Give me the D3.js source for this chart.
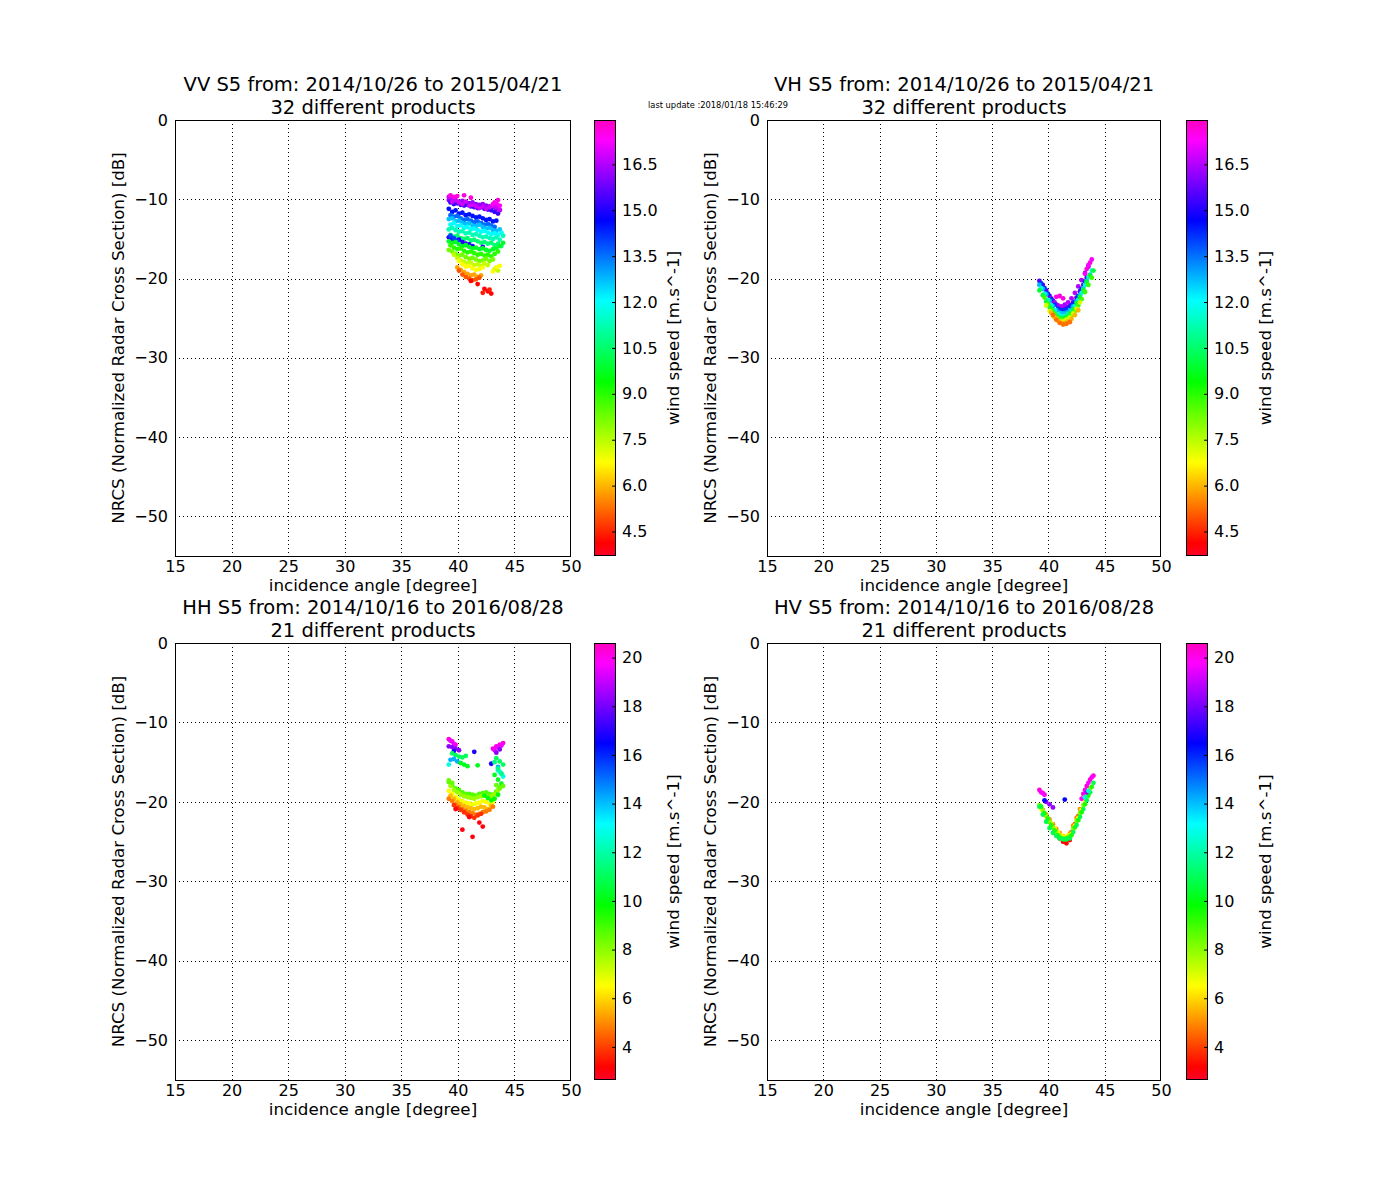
<!DOCTYPE html>
<html><head><meta charset="utf-8">
<script src="https://cdn.jsdelivr.net/npm/d3@7"></script>
<style>body{margin:0;background:#fff}</style>
</head><body><svg id="c" width="1400" height="1200"></svg>
<script>
const _ = null;
// incidence-angle sampling grids (degrees)
const angA = [39.2, 39.5, 39.8, 40.1, 40.4, 40.7, 41.0, 41.3, 41.6, 41.9, 42.2, 42.5, 42.8, 43.1, 43.4, 43.7, 44.0];
const angB = [39.35, 39.65, 39.95, 40.25, 40.55, 40.85, 41.15, 41.45, 41.75, 42.05, 42.35, 42.65, 42.95, 43.25, 43.55, 43.85];

const xTicks = [15, 20, 25, 30, 35, 40, 45, 50];
const yTicks = [0, -10, -20, -30, -40, -50];
const cbTicksTop = [4.5, 6.0, 7.5, 9.0, 10.5, 12.0, 13.5, 15.0, 16.5];
const cbTicksBottom = [4, 6, 8, 10, 12, 14, 16, 18, 20];
const cbDomainTop = [3.7, 17.95];
const cbDomainBottom = [2.64, 20.6];

const titleLines = [
  ["VV S5 from: 2014/10/26 to 2015/04/21", "32 different products"],
  ["VH S5 from: 2014/10/26 to 2015/04/21", "32 different products"],
  ["HH S5 from: 2014/10/16 to 2016/08/28", "21 different products"],
  ["HV S5 from: 2014/10/16 to 2016/08/28", "21 different products"]
];
const xLabel = "incidence angle [degree]";
const yLabel = "NRCS (Normalized Radar Cross Section) [dB]";
const cbLabel = "wind speed [m.s^-1]";
const updateText = "last update :2018/01/18 15:46:29";

// ---- VV ----
const vvWind = [16.2, 15.3, 16.8, 17.6, 17.4, 14.5, 13.6, 12.7, 12.0, 11.3, 10.6, 15.0, 14.0, 9.8, 9.0, 8.2, 7.4, 6.8, 5.8, 5.0, 4.1, 4.4];
const vvGrid = ['A','B','A','B','A','A','B','A','B','A','B','A','B','A','B','A','B','A','B','A','B','A'];
const vvNrcs = [
  [-10.1,-10.0,-10.2,-10.3,-10.2,-10.4,-10.5,-10.4,-10.6,-10.7,-10.6,-10.8,-10.9,-11.0,-11.2,-11.4,_],
  [-10.4,-10.6,-10.5,-10.7,-10.8,-10.7,-10.9,-11.0,-11.1,-11.0,-11.2,-11.3,-11.4,-11.6,-11.8,_],
  [-9.7,-10.3,-10.1,-10.4,-10.6,-10.3,-10.8,-10.7,-10.9,-11.1,-10.9,-11.2,-11.0,-10.8,-11.0,-11.3,_],
  [-9.5,-9.7,-9.6,_,-9.5,_,-9.8,_,_,_,_,_,_,-10.4,-10.1,_],
  [_,_,_,_,_,_,_,_,_,_,_,_,_,-10.6,-10.5,-10.8,_],
  [-11.2,-11.6,-11.4,-11.8,-11.7,-12.0,-11.9,-12.1,-12.3,-12.2,-12.4,-12.6,-12.5,-12.8,-12.7,_,_],
  [-12.0,-12.2,-12.1,-12.4,-12.6,-12.5,-12.7,-12.9,-12.8,-13.0,-13.2,-13.1,-13.3,-13.5,_,_],
  [-12.5,-12.4,-12.8,-12.7,-13.0,-13.1,-13.0,-13.3,-13.4,-13.2,-13.5,-13.7,-13.6,-13.9,-14.0,-13.8,_],
  [-13.2,-13.0,-13.4,-13.3,-13.6,-13.5,-13.8,-13.7,-13.9,-14.1,-14.0,-14.2,-14.4,-14.3,-14.5,-14.2],
  [-13.8,-13.6,-13.9,-14.1,-14.0,-14.3,-14.2,-14.5,-14.4,-14.6,-14.8,-14.7,-14.9,-15.0,-14.8,-15.1,-14.6],
  [-14.5,-14.7,-14.6,-14.9,-15.0,-14.9,-15.2,-15.1,-15.3,-15.5,-15.4,-15.6,-15.5,-15.8,-15.6,-15.9],
  [-14.8,-15.0,-15.2,-15.1,-15.4,-15.6,-15.7,-15.9,_,_,-16.0,_,_,_,_,_,_],
  [-14.6,-14.9,-15.3,_,_,_,_,_,_,_,_,_,_,_,_,_],
  [-15.3,-15.5,-15.4,-15.7,-15.9,-15.8,-16.0,-16.2,-16.1,-16.3,-16.2,-16.4,-16.5,-16.3,-16.2,-15.9,-15.5],
  [-15.8,-16.1,-16.3,-16.2,-16.5,-16.7,-16.6,-16.8,-17.0,-16.9,-17.1,-17.0,-17.2,-16.9,-16.6,_],
  [-16.4,-16.6,-16.9,-17.1,-17.0,-17.3,-17.5,-17.4,-17.6,-17.8,-17.7,-17.5,-17.8,-17.6,_,_,_],
  [_,-17.0,-17.4,-17.7,-17.9,-18.1,-18.0,-18.3,-18.2,-18.4,-18.1,-18.3,_,-18.8,-19.0,_],
  [_,_,_,-17.8,-18.2,-18.5,-18.4,-18.7,-18.9,-18.8,-18.6,_,_,-19.1,-18.6,-18.4,_],
  [_,_,-18.6,-18.9,-19.2,-19.4,-19.6,-19.5,-19.8,-19.6,_,_,_,_,_,_],
  [_,_,_,-19.0,-19.5,-19.8,-20.0,-20.2,-20.1,-19.9,_,_,_,_,_,_,_],
  [_,_,_,_,_,_,-20.3,_,-20.7,_,-21.3,-21.6,-21.9,_,_,_],
  [_,_,_,_,_,_,_,_,_,_,-21.8,_,-21.4,_,_,_,_]
];

// ---- VH ----
const vhWind = [15.5, 16.5, 14.2, 12.8, 11.5, 10.0, 8.8, 7.2, 6.0, 5.3, 17.6, 17.2];
const vhGrid = ['A','B','B','A','B','A','B','A','B','A','A','B'];
const vhNrcs = [
  [-20.3,-20.8,-21.5,-22.2,-22.8,-23.3,-23.6,-23.7,-23.6,-23.4,-23.0,-22.4,-21.6,-20.8,-19.9,_,_],
  [_,_,_,-22.5,-23.0,-23.4,-23.5,-23.3,-23.0,-22.5,-21.8,-21.0,-20.2,-19.3,-18.5,_],
  [-20.6,-21.2,-21.9,-22.6,-23.3,-23.8,-24.0,-24.0,-23.8,-23.4,-22.9,-22.2,-21.3,-20.4,_,_],
  [-20.8,-21.3,-22.0,-22.8,-23.5,-24.0,-24.3,-24.4,-24.3,-24.0,-23.5,-22.9,-22.1,-21.2,-20.3,-19.5,_],
  [-21.2,-21.9,-22.7,-23.4,-24.0,-24.5,-24.7,-24.7,-24.5,-24.1,-23.5,-22.7,-21.8,-20.8,-19.8,-19.0],
  [-21.5,-22.1,-22.9,-23.6,-24.2,-24.7,-25.0,-25.0,-24.8,-24.4,-23.9,-23.1,-22.3,-21.4,-20.4,-19.6,-19.0],
  [_,-22.4,-23.2,-23.9,-24.5,-25.0,-25.2,-25.2,-25.0,-24.6,-24.1,-23.4,-22.6,-21.7,-20.8,-19.9],
  [_,_,-23.4,-24.1,-24.7,-25.1,-25.4,-25.4,-25.2,-24.9,-24.4,-23.8,-23.0,_,_,_,_],
  [_,_,_,-24.3,-24.9,-25.3,-25.6,-25.6,-25.4,-25.1,-24.6,-24.0,_,_,_,_],
  [_,_,_,_,-24.6,-25.2,-25.6,-25.8,-25.7,-25.5,_,_,_,_,_,_,_],
  [_,_,_,_,_,-22.3,-22.2,-22.5,_,_,_,_,_,_,-18.8,-18.0,_],
  [_,_,_,_,_,_,_,_,_,_,_,_,_,-19.4,-18.3,-17.6]
];

// ---- HH ----
const hhWind = [8.8, 7.8, 6.6, 5.6, 4.8, 3.8, 3.0, 9.8, 20.2, 19.6, 18.3, 16.8, 11.0, 14.2, 12.8, 10.2, 12.4, 8.5, 11.5];
const hhGrid = ['A','B','A','B','A','B','A','B','A','B','A','B','A','B','A','B','B','A','B'];
const hhNrcs = [
  [-17.5,-17.9,-18.3,-18.5,-18.8,-19.0,-19.0,-19.1,-19.2,-19.0,-18.9,-18.8,-19.0,-19.1,-18.7,-18.2,_],
  [-18.0,-18.5,-18.8,-19.1,-19.3,-19.4,-19.5,-19.6,-19.4,-19.3,-19.2,-19.4,-19.3,-19.0,-18.5,_],
  [-18.6,-19.0,-19.4,-19.7,-19.9,-20.1,-20.2,-20.3,-20.2,-20.1,-19.9,-20.0,-20.3,-20.0,_,_,_],
  [-19.2,-19.6,-20.0,-20.3,-20.5,-20.7,-20.8,-20.9,-20.8,-20.6,-20.7,-20.9,-20.5,_,_,_],
  [-19.6,-19.9,-20.3,-20.6,-20.9,-21.1,-21.3,-21.4,-21.6,-21.5,-21.3,-21.2,-21.0,-20.6,_,_,_],
  [_,-20.4,-20.8,-21.0,-21.3,-21.6,-21.8,-22.0,-21.7,-21.5,_,_,_,_,_,_],
  [_,_,-20.9,_,-23.5,_,-21.9,-24.4,_,-22.6,-23.1,_,_,_,_,_,_],
  [_,_,_,_,_,_,_,_,_,_,-19.2,-19.5,-19.8,-19.6,-19.1,_],
  [-12.1,-12.4,-12.8,_,_,_,_,_,_,_,_,_,_,-13.3,-13.0,-12.8,-12.6],
  [-12.3,-12.7,_,_,_,_,_,_,_,_,_,_,_,-13.5,-13.1,-12.9],
  [-13.0,-13.1,-13.3,-13.5,_,_,_,_,_,_,_,_,_,_,-13.8,-13.4,_],
  [_,-13.6,_,_,_,_,_,-13.7,_,_,_,_,-15.2,_,_,_],
  [_,-13.9,-14.1,-14.3,-14.4,-14.2,_,_,_,_,_,_,_,_,-14.5,-14.9,-15.3],
  [-14.7,-14.6,-14.9,_,_,_,_,_,_,_,_,_,_,_,-15.6,_],
  [-15.3,_,_,_,_,_,_,_,_,_,_,_,_,_,_,-16.2,-16.8],
  [_,_,_,-15.1,-15.3,-15.5,_,_,-15.4,_,_,_,_,-16.6,-17.2,-17.7],
  [_,_,_,_,_,_,_,_,_,_,_,_,_,_,-16.0,-16.5],
  [-17.3,-17.6,_,_,_,_,_,_,_,_,_,_,_,_,-17.9,-18.3,-18.0],
  [_,_,_,_,_,_,_,_,_,_,_,_,_,-15.0,-15.8,-16.4]
];

// ---- HV ----
const hvWind = [5.0, 4.2, 3.2, 6.5, 8.0, 9.5, 10.8, 20.2, 19.8, 18.4, 16.5, 12.5];
const hvGrid = ['A','B','A','B','A','B','A','A','B','A','B','B'];
const hvNrcs = [
  [_,-21.0,-21.6,-22.2,-22.8,-23.4,-23.9,-24.3,-24.5,-24.0,-23.0,-22.0,-20.9,_,_,_,_],
  [_,-21.6,-22.2,-22.9,-23.5,-24.1,-24.5,-24.8,-24.6,-23.8,-22.8,-21.8,_,_,_,_],
  [_,_,_,_,_,-24.0,-24.6,-25.0,-25.2,-24.8,_,_,_,_,_,_,_],
  [-20.9,-21.5,-22.1,-22.7,-23.3,-23.8,-24.2,-24.4,-24.2,-24.0,-23.0,-22.0,-21.0,-19.9,_,_],
  [-20.4,-21.1,-21.8,-22.5,-23.2,-23.8,-24.3,-24.6,-24.5,-24.3,-23.4,-22.4,-21.4,-20.4,-19.4,-18.3,_],
  [-20.6,-21.4,-22.1,-22.9,-23.6,-24.2,-24.6,-24.7,-24.5,-24.2,-23.2,-22.3,-21.3,-20.3,-19.2,-18.1],
  [-20.6,-21.6,-22.5,-23.3,-23.9,-24.3,-24.6,-24.7,-24.7,-24.6,-23.8,-22.9,-21.9,-20.9,-19.8,-18.8,-17.6],
  [-18.5,-18.9,_,_,_,_,_,_,_,_,_,_,_,-19.0,-18.0,-17.2,-16.7],
  [-18.8,-19.1,_,_,_,_,_,_,_,_,_,_,-19.6,-18.5,-17.6,-16.9],
  [_,_,-20.0,-20.3,-20.7,_,_,_,_,_,_,_,_,_,-18.8,_,_],
  [_,-19.8,_,_,_,_,_,-19.7,_,_,_,_,_,_,_,_],
  [_,_,_,_,_,_,_,_,_,_,_,_,_,-19.4,-18.6,_]
];

// gist_rainbow colormap segments
const cmapPos = [0, 0.03, 0.215, 0.4, 0.586, 0.77, 0.954, 1];
const cmapCol = ['rgb(255,0,41)', 'rgb(255,0,0)', 'rgb(255,255,0)', 'rgb(0,255,0)', 'rgb(0,255,255)', 'rgb(0,0,255)', 'rgb(255,0,255)', 'rgb(255,0,191)'];

const FONT = '"DejaVu Sans", sans-serif';
const TICK_FS = 16;
const TITLE_FS = 19.5;
const svg = d3.select('#c');
const defs = svg.append('defs');

function makeCmap(dom) {
  return d3.scaleLinear().domain(cmapPos.map(p => dom[0] + p * (dom[1] - dom[0]))).range(cmapCol).clamp(true);
}

const panels = [
  {x0:175, x1:571, y0:120, y1:556, cx0:594, cx1:616, wind:vvWind, grid:vvGrid, nrcs:vvNrcs, dom:cbDomainTop, ticks:cbTicksTop, fmt:d3.format('.1f')},
  {x0:767, x1:1161, y0:120, y1:556, cx0:1186, cx1:1208, wind:vhWind, grid:vhGrid, nrcs:vhNrcs, dom:cbDomainTop, ticks:cbTicksTop, fmt:d3.format('.1f')},
  {x0:175, x1:571, y0:643, y1:1080, cx0:594, cx1:616, wind:hhWind, grid:hhGrid, nrcs:hhNrcs, dom:cbDomainBottom, ticks:cbTicksBottom, fmt:d3.format('d')},
  {x0:767, x1:1161, y0:643, y1:1080, cx0:1186, cx1:1208, wind:hvWind, grid:hvGrid, nrcs:hvNrcs, dom:cbDomainBottom, ticks:cbTicksBottom, fmt:d3.format('d')}
];

panels.forEach((p, i) => {
  const g = svg.append('g');
  const x = d3.scaleLinear().domain([15, 50]).range([p.x0, p.x1]);
  const y = d3.scaleLinear().domain([-55, 0]).range([p.y1, p.y0]);
  const color = makeCmap(p.dom);

  // grid
  g.append('g').selectAll('line').data(xTicks.slice(1, -1)).join('line')
    .attr('x1', d => Math.round(x(d)) + 0.5).attr('x2', d => Math.round(x(d)) + 0.5)
    .attr('y1', p.y0).attr('y2', p.y1)
    .attr('stroke', '#000').attr('stroke-width', 1).attr('stroke-dasharray', '1,3');
  g.append('g').selectAll('line').data(yTicks.slice(1)).join('line')
    .attr('y1', d => Math.round(y(d)) + 0.5).attr('y2', d => Math.round(y(d)) + 0.5)
    .attr('x1', p.x0).attr('x2', p.x1)
    .attr('stroke', '#000').attr('stroke-width', 1).attr('stroke-dasharray', '1,3');

  // points
  const pts = [];
  p.wind.forEach((w, k) => {
    const grid = p.grid[k] === 'A' ? angA : angB;
    p.nrcs[k].forEach((v, j) => {
      if (v !== null && v !== undefined && grid[j] !== undefined) pts.push({a: grid[j], v: v, w: w});
    });
  });
  defs.append('clipPath').attr('id', 'clip' + i).append('rect')
    .attr('x', p.x0).attr('y', p.y0).attr('width', p.x1 - p.x0).attr('height', p.y1 - p.y0);
  g.append('g').attr('clip-path', `url(#clip${i})`).selectAll('circle').data(pts).join('circle')
    .attr('cx', d => x(d.a)).attr('cy', d => y(d.v)).attr('r', 2.4)
    .attr('fill', d => color(d.w));

  // frame
  g.append('rect').attr('x', p.x0 + 0.5).attr('y', p.y0 + 0.5)
    .attr('width', p.x1 - p.x0 - 1).attr('height', p.y1 - p.y0)
    .attr('fill', 'none').attr('stroke', '#000').attr('stroke-width', 1);

  // tick labels
  const ax = g.append('g').attr('transform', `translate(0,${p.y1})`)
    .call(d3.axisBottom(x).tickValues(xTicks).tickSize(0).tickPadding(5).tickFormat(d3.format('d')));
  ax.select('.domain').remove();
  ax.selectAll('text').attr('font-size', TICK_FS).attr('font-family', FONT).attr('fill', '#000');

  const ay = g.append('g').attr('transform', `translate(${p.x0},0)`)
    .call(d3.axisLeft(y).tickValues(yTicks).tickSize(0).tickPadding(7).tickFormat(d3.format('d')));
  ay.select('.domain').remove();
  ay.selectAll('text').attr('font-size', TICK_FS).attr('font-family', FONT).attr('fill', '#000');

  // axis titles
  g.append('text').attr('x', (p.x0 + p.x1) / 2).attr('y', p.y1 + 35)
    .attr('text-anchor', 'middle').attr('font-size', 16.7).attr('font-family', FONT).text(xLabel);
  g.append('text').attr('transform', `translate(${p.x0 - 51},${(p.y0 + p.y1) / 2}) rotate(-90)`)
    .attr('text-anchor', 'middle').attr('font-size', 16.7).attr('font-family', FONT).text(yLabel);

  // title
  const cx = (p.x0 + p.x1) / 2;
  g.append('text').attr('x', cx).attr('y', p.y0 - 29.5).attr('text-anchor', 'middle')
    .attr('font-size', TITLE_FS).attr('font-family', FONT).text(titleLines[i][0]);
  g.append('text').attr('x', cx).attr('y', p.y0 - 6.5).attr('text-anchor', 'middle')
    .attr('font-size', TITLE_FS).attr('font-family', FONT).text(titleLines[i][1]);

  // colorbar
  const grad = defs.append('linearGradient').attr('id', 'grad' + i)
    .attr('x1', 0).attr('y1', 1).attr('x2', 0).attr('y2', 0);
  cmapPos.forEach((pos, k) => grad.append('stop').attr('offset', pos).attr('stop-color', cmapCol[k]));
  g.append('rect').attr('x', p.cx0).attr('y', p.y0).attr('width', p.cx1 - p.cx0).attr('height', p.y1 - p.y0)
    .attr('fill', `url(#grad${i})`);
  g.append('rect').attr('x', p.cx0 + 0.5).attr('y', p.y0 + 0.5).attr('width', p.cx1 - p.cx0 - 1).attr('height', p.y1 - p.y0 - 1)
    .attr('fill', 'none').attr('stroke', '#000').attr('stroke-width', 1);
  const cy = d3.scaleLinear().domain(p.dom).range([p.y1, p.y0]);
  const ac = g.append('g').attr('transform', `translate(${p.cx1},0)`)
    .call(d3.axisRight(cy).tickValues(p.ticks).tickSize(-4).tickPadding(6).tickFormat(p.fmt));
  ac.select('.domain').remove();
  ac.selectAll('line').attr('stroke', '#000');
  ac.selectAll('text').attr('font-size', TICK_FS).attr('font-family', FONT).attr('fill', '#000');
  g.append('text').attr('transform', `translate(${p.cx1 + 63},${(p.y0 + p.y1) / 2}) rotate(-90)`)
    .attr('text-anchor', 'middle').attr('font-size', 16.7).attr('font-family', FONT).text(cbLabel);
});

svg.append('text').attr('x', 718).attr('y', 108).attr('text-anchor', 'middle')
  .attr('font-size', 8.3).attr('font-family', FONT).text(updateText);
</script>
</body></html>
